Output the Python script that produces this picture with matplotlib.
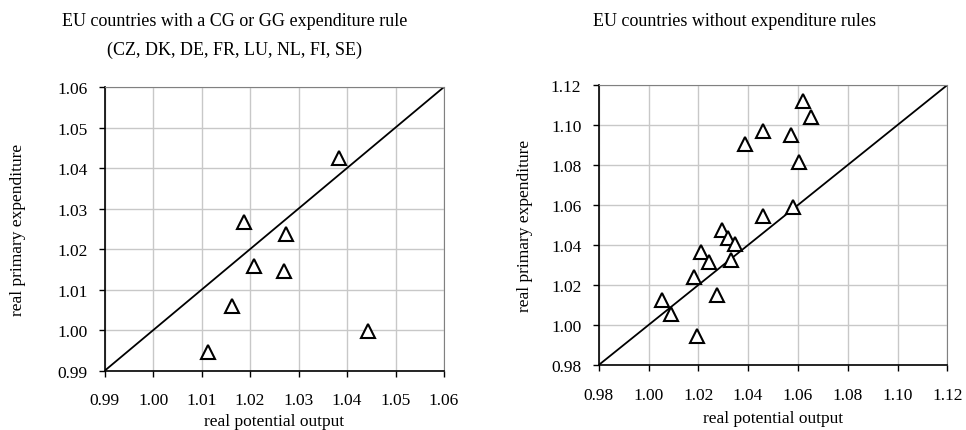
import matplotlib.pyplot as plt

plt.rcParams['font.family'] = ['Liberation Serif', 'DejaVu Serif']

# countries with an expenditure rule
rule_x = [1.0383, 1.0188, 1.0274, 1.0208, 1.0270, 1.0163, 1.0114, 1.0444]
rule_y = [1.0424, 1.0268, 1.0237, 1.0159, 1.0145, 1.0060, 0.9947, 0.9997]

# countries without expenditure rules
norule_x = [1.0622, 1.0654, 1.0460, 1.0388, 1.0572, 1.0604, 1.0580, 1.0460, 1.0296,
            1.0320, 1.0347, 1.0211, 1.0243, 1.0331, 1.0184, 1.0275, 1.0055, 1.0090, 1.0194]
norule_y = [1.1118, 1.1038, 1.0968, 1.0907, 1.0948, 1.0817, 1.0588, 1.0547, 1.0477,
            1.0435, 1.0405, 1.0367, 1.0313, 1.0327, 1.0238, 1.0148, 1.0125, 1.0055, 0.9945]

left_ticks = [0.99, 1.00, 1.01, 1.02, 1.03, 1.04, 1.05, 1.06]
right_ticks = [0.98, 1.00, 1.02, 1.04, 1.06, 1.08, 1.10, 1.12]

fig = plt.figure(figsize=(9.66, 4.31), dpi=100)
ax1 = fig.add_axes([0.1084, 0.1376, 0.3512, 0.6582])
ax2 = fig.add_axes([0.6198, 0.1508, 0.3609, 0.6497])


def draw(ax, xs, ys, ticks, xpad, ylab_x, xlab_y):
    lo, hi = ticks[0], ticks[-1]
    ax.set_xlim(lo, hi)
    ax.set_ylim(lo, hi)
    ax.set_xticks(ticks)
    ax.set_yticks(ticks)
    ax.set_xticklabels(['%.2f' % t for t in ticks])
    ax.set_yticklabels(['%.2f' % t for t in ticks])
    ax.grid(True, color='#c8c8c8', linewidth=1)
    ax.set_axisbelow(True)
    ax.plot([lo, hi], [lo, hi], color='black', linewidth=1.3, zorder=2)
    ax.plot(xs, ys, linestyle='none', marker='^', markersize=10,
            markerfacecolor='white', markeredgecolor='black',
            markeredgewidth=1.5, zorder=3, clip_on=False)
    for s in ['top', 'right']:
        ax.spines[s].set_color('#808080')
    for s in ['left', 'bottom']:
        ax.spines[s].set_color('black')
        ax.spines[s].set_linewidth(1.2)
    ax.tick_params(direction='out', length=4.5, width=1, labelsize=12.5, pad=8)
    ax.tick_params(axis='x', pad=xpad)
    ax.tick_params(top=False, right=False)
    ax.set_xlabel('real potential output', fontsize=12.5)
    ax.set_ylabel('real primary expenditure', fontsize=12.5)
    ax.yaxis.set_label_coords(ylab_x, 0.5)
    ax.xaxis.set_label_coords(0.5, xlab_y)


draw(ax1, rule_x, rule_y, left_ticks, 11, -0.232, -0.148)
draw(ax2, norule_x, norule_y, right_ticks, 11, -0.1885, -0.161)

fig.text(0.243, 0.950, 'EU countries with a CG or GG expenditure rule',
         ha='center', va='center', fontsize=13)
fig.text(0.243, 0.884, '(CZ, DK, DE, FR, LU, NL, FI, SE)',
         ha='center', va='center', fontsize=13)
fig.text(0.7605, 0.951, 'EU countries without expenditure rules',
         ha='center', va='center', fontsize=13)

fig.savefig('out.png', dpi=100)
